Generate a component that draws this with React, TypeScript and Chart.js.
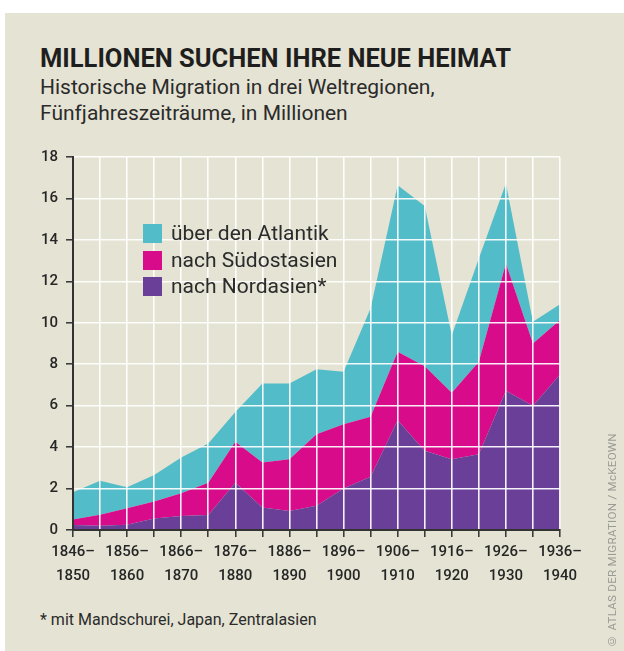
import React, { useEffect, useRef } from 'react';
import { Chart, registerables } from 'chart.js';

Chart.register(...registerables);

const periods = [
  '1846–1850', '1851–1855', '1856–1860', '1861–1865', '1866–1870', '1871–1875',
  '1876–1880', '1881–1885', '1886–1890', '1891–1895', '1896–1900', '1901–1905',
  '1906–1910', '1911–1915', '1916–1920', '1921–1925', '1926–1930', '1931–1935',
  '1936–1940',
];

// millions per five-year period (stacked: Nordasien at the bottom)
const nordasien = [0.24, 0.2, 0.25, 0.56, 0.68, 0.72, 2.28, 1.08, 0.92, 1.17, 2.0, 2.57, 5.3, 3.83, 3.42, 3.65, 6.72, 6.0, 7.5];
const suedostasien = [0.27, 0.54, 0.8, 0.81, 1.09, 1.56, 1.98, 2.18, 2.5, 3.45, 3.1, 2.9, 3.3, 4.07, 3.2, 4.47, 6.14, 3.0, 2.63];
const atlantik = [1.31, 1.64, 1.01, 1.28, 1.73, 1.9, 1.44, 3.81, 3.65, 3.14, 2.54, 5.23, 8.04, 7.74, 2.78, 4.98, 3.86, 1.05, 0.77];

const seriesLabels = ['über den Atlantik', 'nach Südostasien', 'nach Nordasien*'];
const seriesColors = ['#52bdc8', '#d80c8a', '#6a3f97'];

const FONT = "Roboto, 'DejaVu Sans', sans-serif";
const TEXT = '#262626';
const GRID = 'rgba(255,255,255,0.92)';

export default function App() {
  const canvasRef = useRef<HTMLCanvasElement | null>(null);

  useEffect(() => {
    const canvas = canvasRef.current;
    if (!canvas) return;
    const chart = new Chart(canvas, {
      type: 'line',
      data: {
        labels: periods,
        datasets: [
          {
            label: seriesLabels[2],
            data: nordasien,
            backgroundColor: seriesColors[2],
            borderWidth: 0,
            pointRadius: 0,
            fill: 'origin',
            tension: 0,
          },
          {
            label: seriesLabels[1],
            data: suedostasien,
            backgroundColor: seriesColors[1],
            borderWidth: 0,
            pointRadius: 0,
            fill: '-1',
            tension: 0,
          },
          {
            label: seriesLabels[0],
            data: atlantik,
            backgroundColor: seriesColors[0],
            borderWidth: 0,
            pointRadius: 0,
            fill: '-1',
            tension: 0,
          },
        ],
      },
      options: {
        animation: false,
        responsive: false,
        maintainAspectRatio: false,
        layout: { padding: { top: 17, right: 64, left: 0, bottom: 0 } },
        plugins: {
          legend: { display: false },
          tooltip: { enabled: false },
          title: { display: false },
        },
        scales: {
          x: {
            type: 'category',
            offset: false,
            grid: {
              z: 1,
              color: (ctx: any) => (ctx.index === 0 ? 'rgba(0,0,0,0)' : GRID),
              lineWidth: 1.6,
              drawTicks: true,
              tickColor: '#333333',
              tickLength: 7,
              tickWidth: 1.5,
            },
            border: { color: '#333333', width: 2, z: 2 },
            ticks: {
              autoSkip: false,
              maxRotation: 0,
              minRotation: 0,
              padding: 4,
              color: TEXT,
              font: { family: FONT, size: 15, weight: '500', lineHeight: 1.55 },
              callback: (_v: any, index: number) => {
                if (index % 2 !== 0) return '';
                const [a, b] = periods[index].split('–');
                return [a + '–', b];
              },
            },
            afterFit: (scale: any) => {
              scale.height = 70;
            },
          },
          y: {
            stacked: true,
            min: 0,
            max: 18,
            grid: {
              z: 1,
              color: (ctx: any) => (ctx.tick && ctx.tick.value === 0 ? 'rgba(0,0,0,0)' : GRID),
              lineWidth: 1.6,
              drawTicks: true,
              tickColor: '#333333',
              tickLength: 7,
              tickWidth: 1.5,
            },
            border: { color: '#333333', width: 2, z: 2 },
            ticks: {
              stepSize: 2,
              padding: 8,
              color: TEXT,
              font: { family: FONT, size: 15, weight: '500' },
            },
            afterFit: (scale: any) => {
              scale.width = 73;
            },
          },
        },
      },
    });
    return () => chart.destroy();
  }, []);

  return (
    <div style={{ position: 'absolute', left: 0, top: 0, width: 624, height: 651, background: '#ffffff', overflow: 'hidden', fontFamily: FONT }}>
      <div style={{ position: 'absolute', left: 5, top: 13, width: 619, height: 638, background: '#e5e3d3' }} />
      <div style={{ position: 'absolute', left: 40, top: 44, fontSize: 25.5, fontWeight: 700, color: '#1e1e1e', lineHeight: '28px', whiteSpace: 'nowrap' }}>
        MILLIONEN SUCHEN IHRE NEUE HEIMAT
      </div>
      <div style={{ position: 'absolute', left: 40, top: 74, fontSize: 21, fontWeight: 400, color: '#2b2b2b', lineHeight: '26px', whiteSpace: 'nowrap' }}>
        <div>Historische Migration in drei Weltregionen,</div>
        <div>Fünfjahreszeiträume, in Millionen</div>
      </div>
      <canvas ref={canvasRef} width={624} height={460} style={{ position: 'absolute', left: 0, top: 140, width: 624, height: 460 }} />
      {seriesLabels.map((lab, i) => (
        <div key={lab} style={{ position: 'absolute', left: 143, top: 224 + i * 26.5, height: 19, display: 'flex', alignItems: 'center', whiteSpace: 'nowrap' }}>
          <div style={{ width: 19, height: 19, background: seriesColors[i] }} />
          <div style={{ marginLeft: 9, fontSize: 21, color: '#2b2b2b', lineHeight: '19px' }}>{lab}</div>
        </div>
      ))}
      <div style={{ position: 'absolute', left: 40, top: 610, fontSize: 16, color: '#2b2b2b', lineHeight: '20px', whiteSpace: 'nowrap' }}>
        * mit Mandschurei, Japan, Zentralasien
      </div>
      <div style={{ position: 'absolute', left: 605, top: 430, height: 218, writingMode: 'vertical-rl', transform: 'rotate(180deg)', fontSize: 11.5, color: '#9a9a96', whiteSpace: 'nowrap', lineHeight: '14px', letterSpacing: 0.3 }}>
        © ATLAS DER MIGRATION / McKEOWN
      </div>
    </div>
  );
}
